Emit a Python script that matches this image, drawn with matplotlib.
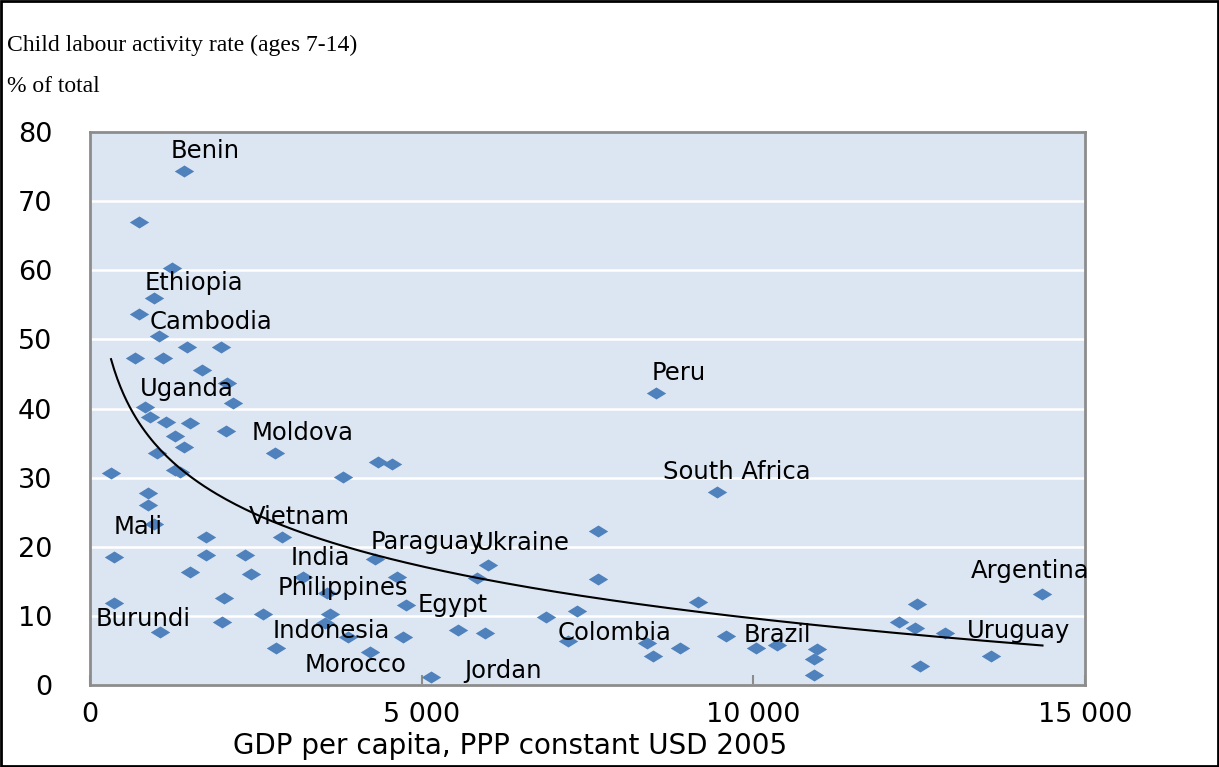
import numpy as np
import matplotlib
matplotlib.use("Agg")
import matplotlib.pyplot as plt
from matplotlib.path import Path
from matplotlib.patches import Rectangle
from matplotlib.ticker import FuncFormatter

# ------------------------------------------------------------
# Data
# ------------------------------------------------------------

gdp = [1418, 739, 1237, 965, 739, 1041, 679, 1101, 1463, 1976,
       1689, 2066, 2157, 830, 905, 1146, 1508, 2051, 1282, 1418,
       1010, 2790, 1282, 1357, 317, 4344, 4555, 3816, 875, 875,
       965, 1750, 2896, 362, 1750, 2338, 4299, 1508, 2428, 3213,
       4630, 3575, 2021, 362, 4766, 2609, 3620, 1991, 1056, 3544,
       3891, 4721, 5551, 2805, 4223, 5143, 9457, 7662, 6003, 5837,
       7662, 9170, 6878, 7345, 5958, 7210, 8401, 8492, 8899, 9593,
       10045, 10362, 10965, 10920, 10920, 12474, 12202, 12443, 12896, 12519,
       13590, 14359, 8537]

rate = [74.4, 67.0, 60.3, 56.0, 53.7, 50.5, 47.3, 47.3, 48.9, 48.9,
        45.6, 43.7, 40.8, 40.2, 38.8, 38.1, 37.9, 36.8, 36.0, 34.4,
        33.5, 33.5, 31.1, 30.8, 30.7, 32.3, 32.0, 30.1, 27.8, 26.0,
        23.3, 21.4, 21.4, 18.5, 18.8, 18.8, 18.2, 16.4, 16.1, 15.6,
        15.6, 13.3, 12.6, 11.9, 11.6, 10.3, 10.3, 9.1, 7.7, 9.0,
        6.9, 6.9, 8.0, 5.4, 4.8, 1.2, 27.9, 22.3, 17.4, 15.5,
        15.3, 12.0, 9.8, 10.7, 7.5, 6.4, 6.1, 4.2, 5.4, 7.1,
        5.4, 5.8, 5.2, 3.7, 1.5, 11.7, 9.1, 8.3, 7.5, 2.8,
        4.2, 13.2, 42.3]

# country labels: name, x, y (left edge, vertical centre)
label_names = ["Benin", "Ethiopia", "Cambodia", "Uganda", "Moldova", "Peru",
               "South Africa", "Mali", "Vietnam", "Paraguay", "Ukraine", "India",
               "Philippines", "Egypt", "Burundi", "Indonesia", "Morocco", "Jordan",
               "Colombia", "Brazil", "Argentina", "Uruguay"]
label_x = [1222, 830, 905, 754, 2443, 8462,
           8643, 362, 2398, 4223, 5822, 3017,
           2836, 4932, 90, 2760, 3243, 5641,
           7044, 9849, 13273, 13213]
label_y = [77.3, 58.2, 52.5, 42.8, 36.5, 45.2,
           30.8, 22.9, 24.3, 20.7, 20.5, 18.4,
           14.0, 11.6, 9.6, 7.8, 2.9, 2.0,
           7.5, 7.2, 16.5, 7.8]

# ------------------------------------------------------------
# Figure
# ------------------------------------------------------------

BG = "#DCE6F2"
BLUE = "#4F81BD"
SPINE = "#8C8C8C"

fig = plt.figure(figsize=(12.19, 7.67), dpi=100)
ax = fig.add_axes([90 / 1219, 1 - 685 / 767, (1085 - 90) / 1219, (685 - 132) / 767])
ax.set_facecolor(BG)

# flattened diamond marker
diamond = Path([(-1, 0), (0, 0.62), (1, 0), (0, -0.62), (-1, 0)],
               [Path.MOVETO, Path.LINETO, Path.LINETO, Path.LINETO, Path.CLOSEPOLY])
ax.plot(gdp, rate, linestyle="none", marker=diamond, markersize=14,
        color=BLUE, markeredgewidth=0, zorder=3)

# logarithmic trend line
x = np.array(gdp, dtype=float)
y = np.array(rate, dtype=float)
b, a = np.polyfit(np.log(x), y, 1)
xs = np.linspace(x.min(), x.max(), 300)
ax.plot(xs, a + b * np.log(xs), color="black", lw=1.5, zorder=4)

for name, lx, ly in zip(label_names, label_x, label_y):
    ax.text(lx, ly, name, fontsize=17.5, family="DejaVu Sans",
            ha="left", va="center", color="black", zorder=5)

ax.set_xlim(0, 15000)
ax.set_ylim(0, 80)
ax.set_xticks([0, 5000, 10000, 15000])
ax.set_yticks(range(0, 81, 10))
ax.xaxis.set_major_formatter(FuncFormatter(lambda v, p: f"{int(v):,}".replace(",", " ")))
ax.yaxis.grid(True, color="white", lw=1.8)
ax.set_axisbelow(True)
ax.tick_params(axis="x", direction="in", length=7, width=1.5, color=SPINE,
               labelsize=19.5, pad=12)
ax.tick_params(axis="y", length=0, labelsize=19.5, pad=27)
for lab in ax.get_yticklabels() + ax.get_xticklabels():
    lab.set_family("DejaVu Sans")
for s in ax.spines.values():
    s.set_color(SPINE)
    s.set_linewidth(2)

fig.text(510 / 1219, 1 - 746 / 767, "GDP per capita, PPP constant USD 2005",
         fontsize=20, family="DejaVu Sans", ha="center", va="center")

fig.text(7 / 1219, 1 - 45 / 767, "Child labour activity rate (ages 7-14)",
         fontsize=17, family="Liberation Serif", ha="left", va="center")
fig.text(7 / 1219, 1 - 86 / 767, "% of total",
         fontsize=17, family="Liberation Serif", ha="left", va="center")

# outer frame
fig.patches.append(Rectangle((0.001, 0.001), 0.998, 0.998, transform=fig.transFigure,
                             fill=False, edgecolor="black", lw=2))

fig.savefig("out.png", dpi=100)
